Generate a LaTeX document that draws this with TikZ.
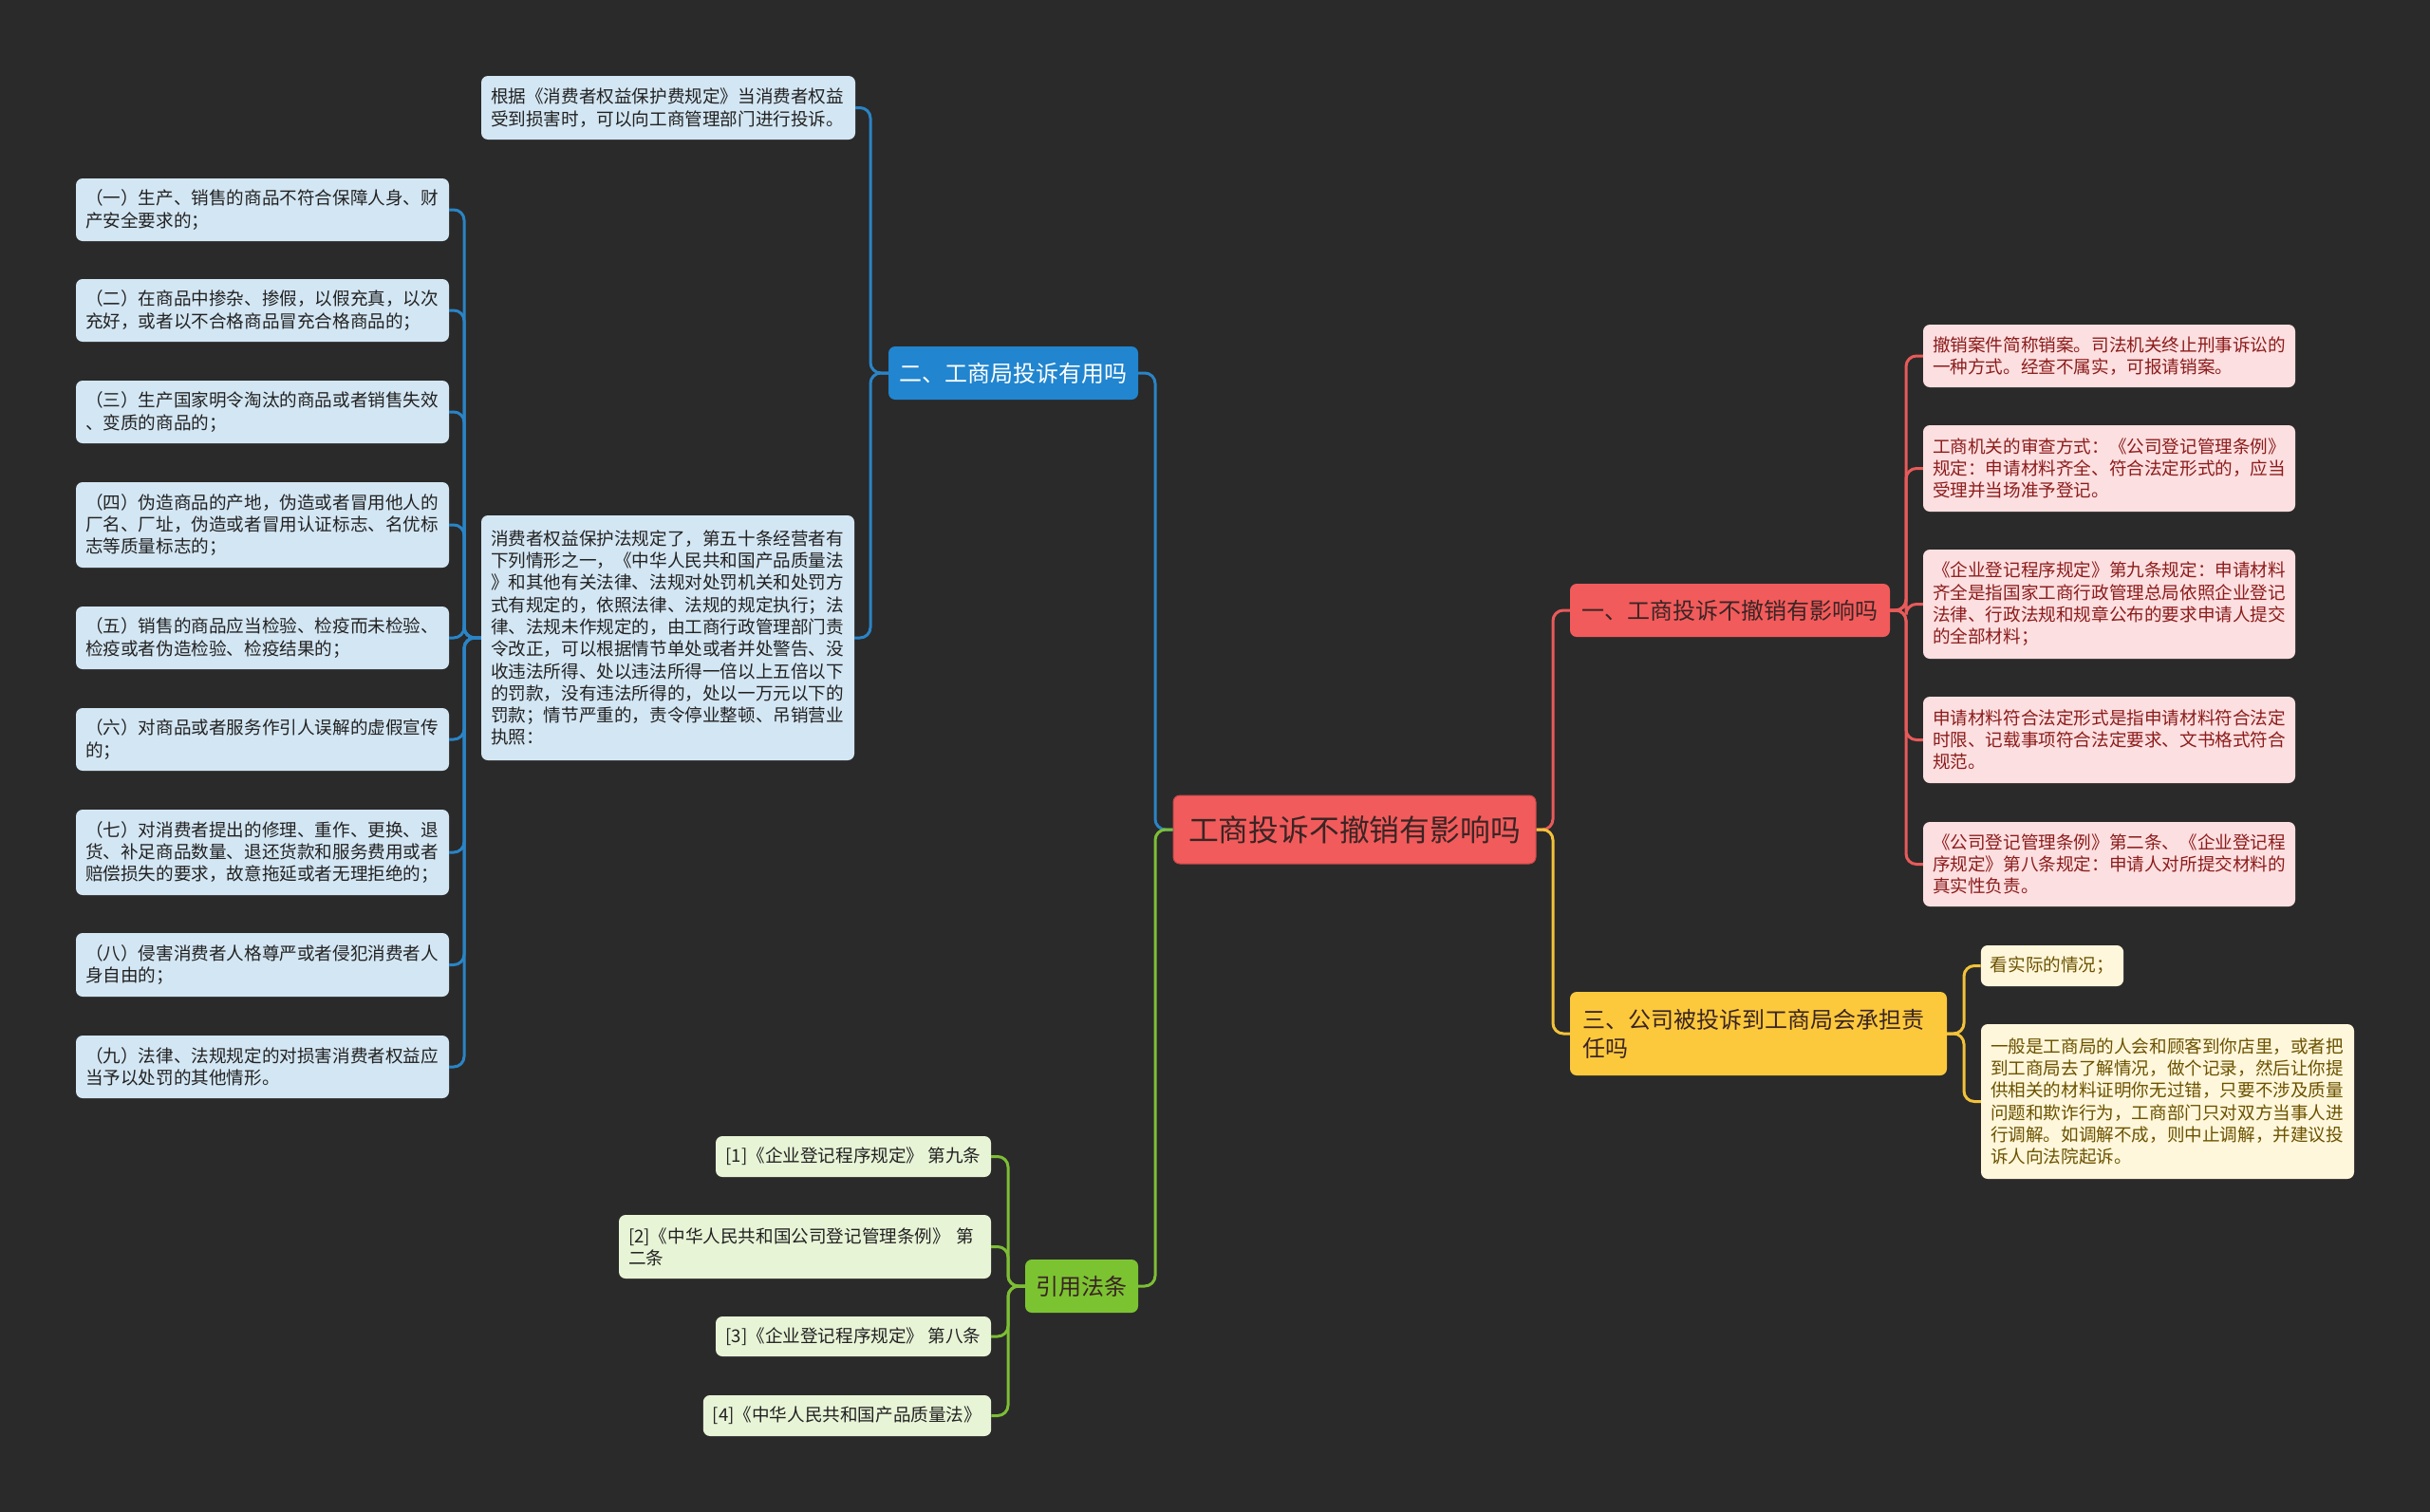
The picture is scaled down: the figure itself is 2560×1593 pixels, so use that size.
\documentclass[tikz,border=0pt]{standalone}
\usepackage{fontspec}
\newfontfamily\cjk{Noto Sans CJK SC}
\definecolor{bgc}{HTML}{2A2A2A}
\definecolor{cfill}{HTML}{F25B5B}
\definecolor{cdraw}{HTML}{C94848}
\definecolor{ctext}{HTML}{3A2424}
\definecolor{bfill}{HTML}{2185CF}
\definecolor{bleaff}{HTML}{D3E6F3}
\definecolor{bline}{HTML}{2A84C6}
\definecolor{rleaff}{HTML}{FCDFE0}
\definecolor{rtext}{HTML}{8C1C1C}
\definecolor{rline}{HTML}{E85A5A}
\definecolor{yfill}{HTML}{FDC93C}
\definecolor{yleaff}{HTML}{FFF7DB}
\definecolor{ytext}{HTML}{6B5200}
\definecolor{yline}{HTML}{F2C23A}
\definecolor{gfill}{HTML}{7CC332}
\definecolor{gleaff}{HTML}{E8F4D6}
\definecolor{gline}{HTML}{7DBE35}
\definecolor{dtext}{HTML}{222222}
\tikzset{
  boxbase/.style={rounded corners=7pt, inner ysep=0pt, inner xsep=10pt},
  leafbase/.style={boxbase, align=left, font=\cjk\fontsize{18.6}{23.3}\selectfont},
  bleaf/.style={leafbase, fill=bleaff, text=dtext},
  rleaf/.style={leafbase, fill=rleaff, text=rtext},
  yleaf/.style={leafbase, fill=yleaff, text=ytext},
  gleaf/.style={leafbase, fill=gleaff, text=dtext},
  branchbase/.style={boxbase, font=\cjk\fontsize{24}{30}\selectfont},
  conn/.style={line width=3pt, rounded corners=11pt},
}
\begin{document}
\begin{tikzpicture}[x=1pt,y=1pt]
\fill[bgc] (0,0) rectangle (2560,-1593);
\useasboundingbox (0,0) rectangle (2560,-1593);

% trunk coordinates
\coordinate (tCL) at (1217,0);
\coordinate (tCR) at (1636,0);
\coordinate (tB) at (917,0);
\coordinate (tBB) at (489,0);
\coordinate (tR) at (2008,0);
\coordinate (tY) at (2069,0);
\coordinate (tG) at (1062,0);

% center
\node[boxbase, fill=cfill, draw=cdraw, line width=1pt, text=ctext, minimum width=382pt, minimum height=72pt, font=\cjk\fontsize{31.8}{36}\selectfont] (root) at (1427,-874) {工商投诉不撤销有影响吗};

% branches
\node[branchbase, fill=cfill, text=ctext, minimum width=337pt, minimum height=56pt] (br) at (1822.5,-643) {一、工商投诉不撤销有影响吗};
\node[branchbase, fill=bfill, text=white, minimum width=263pt, minimum height=56pt] (bb) at (1067.5,-393) {二、工商局投诉有用吗};
\node[branchbase, fill=yfill, text=ctext, text width=371pt, align=left, inner xsep=13pt, minimum height=88pt] (by) at (1852.5,-1089) {三、公司被投诉到工商局会承担责\\任吗};
\node[branchbase, fill=gfill, text=ctext, minimum width=119pt, minimum height=56pt] (bg) at (1139.5,-1355) {引用法条};

% blue leaves
\node[bleaf, text width=374pt, minimum height=67pt] (b0) at (704,-113.5) {根据《消费者权益保护费规定》当消费者权益\\受到损害时，可以向工商管理部门进行投诉。};
\node[bleaf, text width=373pt, minimum height=258pt] (b1) at (703.5,-672) {消费者权益保护法规定了，第五十条经营者有\\下列情形之一，《中华人民共和国产品质量法\\》和其他有关法律、法规对处罚机关和处罚方\\式有规定的，依照法律、法规的规定执行；法\\律、法规未作规定的，由工商行政管理部门责\\令改正，可以根据情节单处或者并处警告、没\\收违法所得、处以违法所得一倍以上五倍以下\\的罚款，没有违法所得的，处以一万元以下的\\罚款；情节严重的，责令停业整顿、吊销营业\\执照：};

\node[bleaf, text width=373pt, minimum height=66pt] (l1) at (276.5,-221) {（一）生产、销售的商品不符合保障人身、财\\产安全要求的；};
\node[bleaf, text width=373pt, minimum height=66pt] (l2) at (276.5,-327) {（二）在商品中掺杂、掺假，以假充真，以次\\充好，或者以不合格商品冒充合格商品的；};
\node[bleaf, text width=373pt, minimum height=66pt] (l3) at (276.5,-434) {（三）生产国家明令淘汰的商品或者销售失效\\、变质的商品的；};
\node[bleaf, text width=373pt, minimum height=90pt] (l4) at (276.5,-553) {（四）伪造商品的产地，伪造或者冒用他人的\\厂名、厂址，伪造或者冒用认证标志、名优标\\志等质量标志的；};
\node[bleaf, text width=373pt, minimum height=66pt] (l5) at (276.5,-672) {（五）销售的商品应当检验、检疫而未检验、\\检疫或者伪造检验、检疫结果的；};
\node[bleaf, text width=373pt, minimum height=66pt] (l6) at (276.5,-779) {（六）对商品或者服务作引人误解的虚假宣传\\的；};
\node[bleaf, text width=373pt, minimum height=90pt] (l7) at (276.5,-898) {（七）对消费者提出的修理、重作、更换、退\\货、补足商品数量、退还货款和服务费用或者\\赔偿损失的要求，故意拖延或者无理拒绝的；};
\node[bleaf, text width=373pt, minimum height=67pt] (l8) at (276.5,-1016.5) {（八）侵害消费者人格尊严或者侵犯消费者人\\身自由的；};
\node[bleaf, text width=373pt, minimum height=66pt] (l9) at (276.5,-1124) {（九）法律、法规规定的对损害消费者权益应\\当予以处罚的其他情形。};

% red leaves
\node[rleaf, text width=372pt, minimum height=66pt] (r1) at (2222,-375) {撤销案件简称销案。司法机关终止刑事诉讼的\\一种方式。经查不属实，可报请销案。};
\node[rleaf, text width=372pt, minimum height=91pt] (r2) at (2222,-493.5) {工商机关的审查方式：《公司登记管理条例》\\规定：申请材料齐全、符合法定形式的，应当\\受理并当场准予登记。};
\node[rleaf, text width=372pt, minimum height=115pt] (r3) at (2222,-636.5) {《企业登记程序规定》第九条规定：申请材料\\齐全是指国家工商行政管理总局依照企业登记\\法律、行政法规和规章公布的要求申请人提交\\的全部材料；};
\node[rleaf, text width=372pt, minimum height=91pt] (r4) at (2222,-779.5) {申请材料符合法定形式是指申请材料符合法定\\时限、记载事项符合法定要求、文书格式符合\\规范。};
\node[rleaf, text width=372pt, minimum height=89pt] (r5) at (2222,-910.5) {《公司登记管理条例》第二条、《企业登记程\\序规定》第八条规定：申请人对所提交材料的\\真实性负责。};

% yellow leaves
\node[yleaf, minimum width=150pt, minimum height=43pt] (y1) at (2162,-1017.5) {看实际的情况；};
\node[yleaf, text width=373pt, minimum height=163pt] (y2) at (2283.5,-1160.5) {一般是工商局的人会和顾客到你店里，或者把\\到工商局去了解情况，做个记录，然后让你提\\供相关的材料证明你无过错，只要不涉及质量\\问题和欺诈行为，工商部门只对双方当事人进\\行调解。如调解不成，则中止调解，并建议投\\诉人向法院起诉。};

% green leaves
\node[gleaf, minimum width=290pt, minimum height=43pt] (g1) at (899,-1218.5) {[1]《企业登记程序规定》 第九条};
\node[gleaf, text width=372pt, minimum height=67pt] (g2) at (848,-1313.5) {[2]《中华人民共和国公司登记管理条例》 第\\二条};
\node[gleaf, minimum width=290pt, minimum height=42pt] (g3) at (899,-1408) {[3]《企业登记程序规定》 第八条};
\node[gleaf, minimum width=303pt, minimum height=43pt] (g4) at (892.5,-1491.5) {[4]《中华人民共和国产品质量法》};

% connectors: center
\draw[conn, bline] (root.west) -- (root.west -| tCL) -- (bb.east -| tCL) -- (bb.east);
\draw[conn, gline] (root.west) -- (root.west -| tCL) -- (bg.east -| tCL) -- (bg.east);
\draw[conn, rline] (root.east) -- (root.east -| tCR) -- (br.west -| tCR) -- (br.west);
\draw[conn, yline] (root.east) -- (root.east -| tCR) -- (by.west -| tCR) -- (by.west);

% blue branch
\foreach \c in {b0,b1} {
  \draw[conn, bline] (bb.west) -- (bb.west -| tB) -- (\c.east -| tB) -- (\c.east);
}
\foreach \c in {l1,l2,l3,l4,l5,l6,l7,l8,l9} {
  \draw[conn, bline] (b1.west) -- (b1.west -| tBB) -- (\c.east -| tBB) -- (\c.east);
}
% red branch
\foreach \c in {r1,r2,r3,r4,r5} {
  \draw[conn, rline] (br.east) -- (br.east -| tR) -- (\c.west -| tR) -- (\c.west);
}
% yellow branch
\foreach \c in {y1,y2} {
  \draw[conn, yline] (by.east) -- (by.east -| tY) -- (\c.west -| tY) -- (\c.west);
}
% green branch
\foreach \c in {g1,g2,g3,g4} {
  \draw[conn, gline] (bg.west) -- (bg.west -| tG) -- (\c.east -| tG) -- (\c.east);
}
\end{tikzpicture}
\end{document}
